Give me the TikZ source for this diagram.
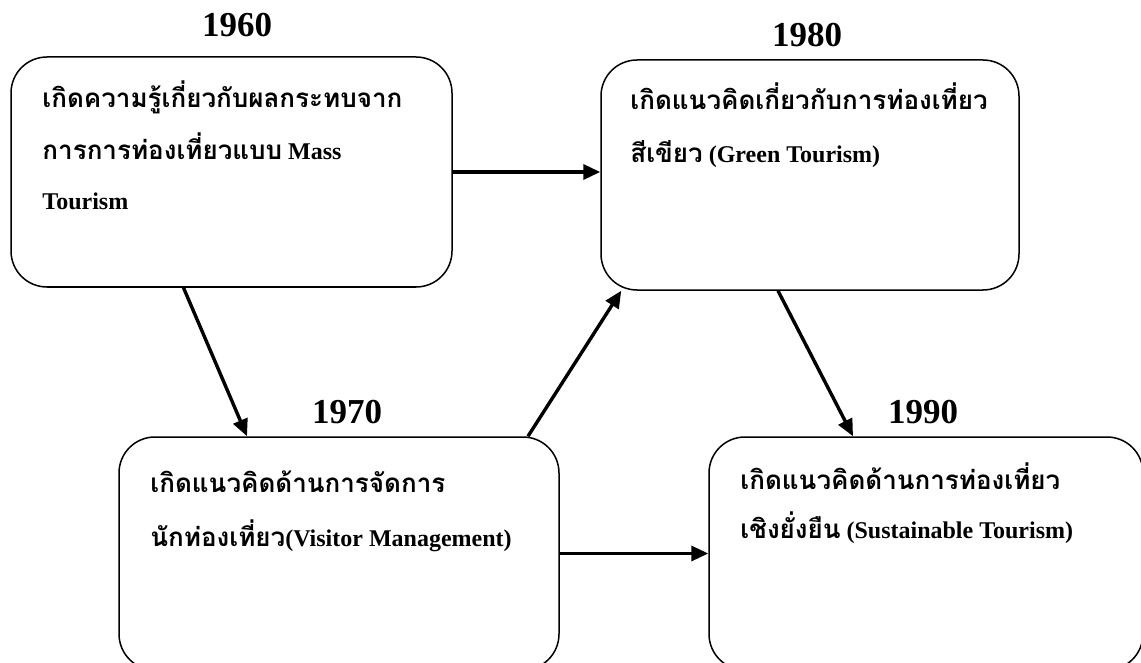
\documentclass[tikz,border=0pt]{standalone}
\usepackage{fontspec}
\setmainfont{Liberation Serif}
\newfontfamily\thaifont[Script=Thai]{Loma}
\usetikzlibrary{arrows.meta}

\newcommand{\thtext}[1]{{\thaifont\fontsize{26}{26}\selectfont #1}}

\begin{document}
\begin{tikzpicture}[x=1pt,y=-1pt,
	period/.style={draw,line width=1.5pt,rounded corners=36pt,inner sep=0pt},
	year/.style={font=\fontsize{35}{35}\selectfont\bfseries},
	idea/.style={anchor=base west,inner sep=0pt,font=\fontsize{24}{24}\selectfont\bfseries},
	flow/.style={line width=3.4pt,-{Triangle[length=17pt,width=15pt]}}]
\useasboundingbox (0,0) rectangle (1141,663);
% the four periods
\node[period,minimum width=441pt,minimum height=230pt] (boxA) at (231.5,172) {};
\node[period,minimum width=418pt,minimum height=230pt] (boxB) at (810,175) {};
\node[period,minimum width=440pt,minimum height=233pt] (boxC) at (339,553.5) {};
\node[period,minimum width=434pt,minimum height=233pt] (boxD) at (926,553.5) {};
% years
\node[year] (yearA) at (237,25) {1960};
\node[year] (yearB) at (807,35) {1980};
\node[year] (yearC) at (347,412) {1970};
\node[year] (yearD) at (923,412) {1990};
% texts
\node[idea] (textA1) at ([shift={(32,51)}]boxA.north west) {\thtext{เกิดความรู้เกี่ยวกับผลกระทบจาก}};
\node[idea] (textA2) at ([shift={(32,103)}]boxA.north west) {\thtext{การการท่องเที่ยวแบบ} Mass};
\node[idea] (textA3) at ([shift={(32,153)}]boxA.north west) {Tourism};
\node[idea] (textB1) at ([shift={(30,50)}]boxB.north west) {\thtext{เกิดแนวคิดเกี่ยวกับการท่องเที่ยว}};
\node[idea] (textB2) at ([shift={(30,103)}]boxB.north west) {\thtext{สีเขียว} (Green Tourism)};
\node[idea] (textC1) at ([shift={(32,56)}]boxC.north west) {\thtext{เกิดแนวคิดด้านการจัดการ}};
\node[idea] (textC2) at ([shift={(32,110)}]boxC.north west) {\thtext{นักท่องเที่ยว}(Visitor Management)};
\node[idea] (textD1) at ([shift={(32,53)}]boxD.north west) {\thtext{เกิดแนวคิดด้านการท่องเที่ยว}};
\node[idea] (textD2) at ([shift={(32,102)}]boxD.north west) {\thtext{เชิงยั่งยืน} (Sustainable Tourism)};
% arrows
\draw[flow] (boxA.east) -- (boxA.east -| boxB.west);
\draw[flow] ([xshift=-48pt]boxA.south) -- ([xshift=-92pt]boxC.north);
\draw[flow] ([xshift=189pt]boxC.north) -- ([xshift=21pt]boxB.south west);
\draw[flow] ([xshift=-32pt]boxB.south) -- ([xshift=-73pt]boxD.north);
\draw[flow] (boxC.east) -- (boxD.west);
\end{tikzpicture}
\end{document}
